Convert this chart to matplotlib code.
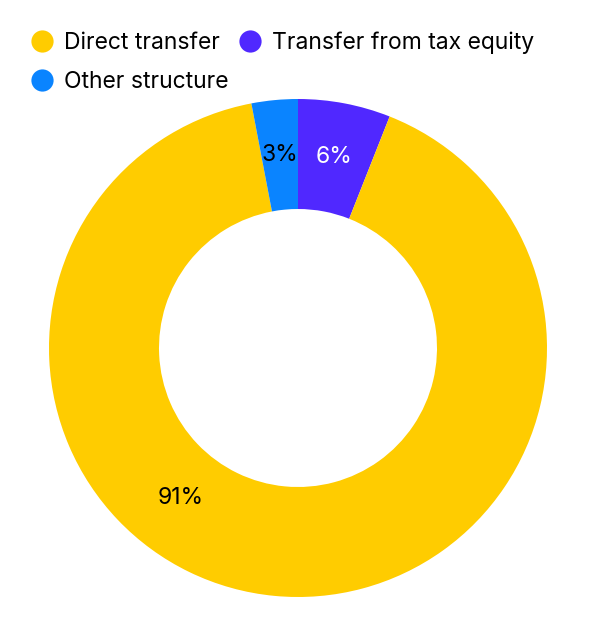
import numpy as np
import matplotlib.pyplot as plt
from matplotlib.lines import Line2D

plt.rcParams['font.family'] = ['Inter', 'DejaVu Sans']

# Data (clockwise from 12 o'clock)
labels = ['Transfer from tax equity', 'Direct transfer', 'Other structure']
shares = [6, 91, 3]
colors = ['#5028FF', '#FFCC00', '#0A84FF']
text_colors = ['white', 'black', 'black']

# legend reads row by row: Direct, Transfer / Other
legend_order = ['Direct transfer', 'Other structure', 'Transfer from tax equity']

fig = plt.figure(figsize=(5.92, 6.17), dpi=100)
ax = fig.add_axes([49 / 592, 20 / 617, 498 / 592, 498 / 617])

wedges, texts = ax.pie(shares, colors=colors, startangle=90, counterclock=False,
                       radius=1.0, wedgeprops=dict(width=110 / 249, linewidth=0))
ax.set_xlim(-1, 1)
ax.set_ylim(-1, 1)
ax.set_aspect('equal')

# percentage labels in the middle of the ring; the big slice label sits lower-left
mid_r = 1.0 - 55 / 249
for w, s, tc in zip(wedges, shares, text_colors):
    mid = (w.theta1 + w.theta2) / 2
    r = mid_r
    if s == max(shares):
        mid = -128
        r = 190 / 249
    ang = np.deg2rad(mid)
    ax.text(r * np.cos(ang), r * np.sin(ang), f'{s}%', ha='center', va='center',
            fontsize=16.5, color=tc)

handles = [Line2D([], [], marker='o', linestyle='', markersize=16,
                  markerfacecolor=colors[labels.index(l)], markeredgewidth=0)
           for l in legend_order]
fig.legend(handles, legend_order, loc='upper left', bbox_to_anchor=(0.013, 0.982),
           ncol=2, frameon=False, fontsize=16.5, handletextpad=0.35, columnspacing=0.35,
           labelspacing=0.75, handlelength=1.2)

fig.savefig('out.png', dpi=100)
